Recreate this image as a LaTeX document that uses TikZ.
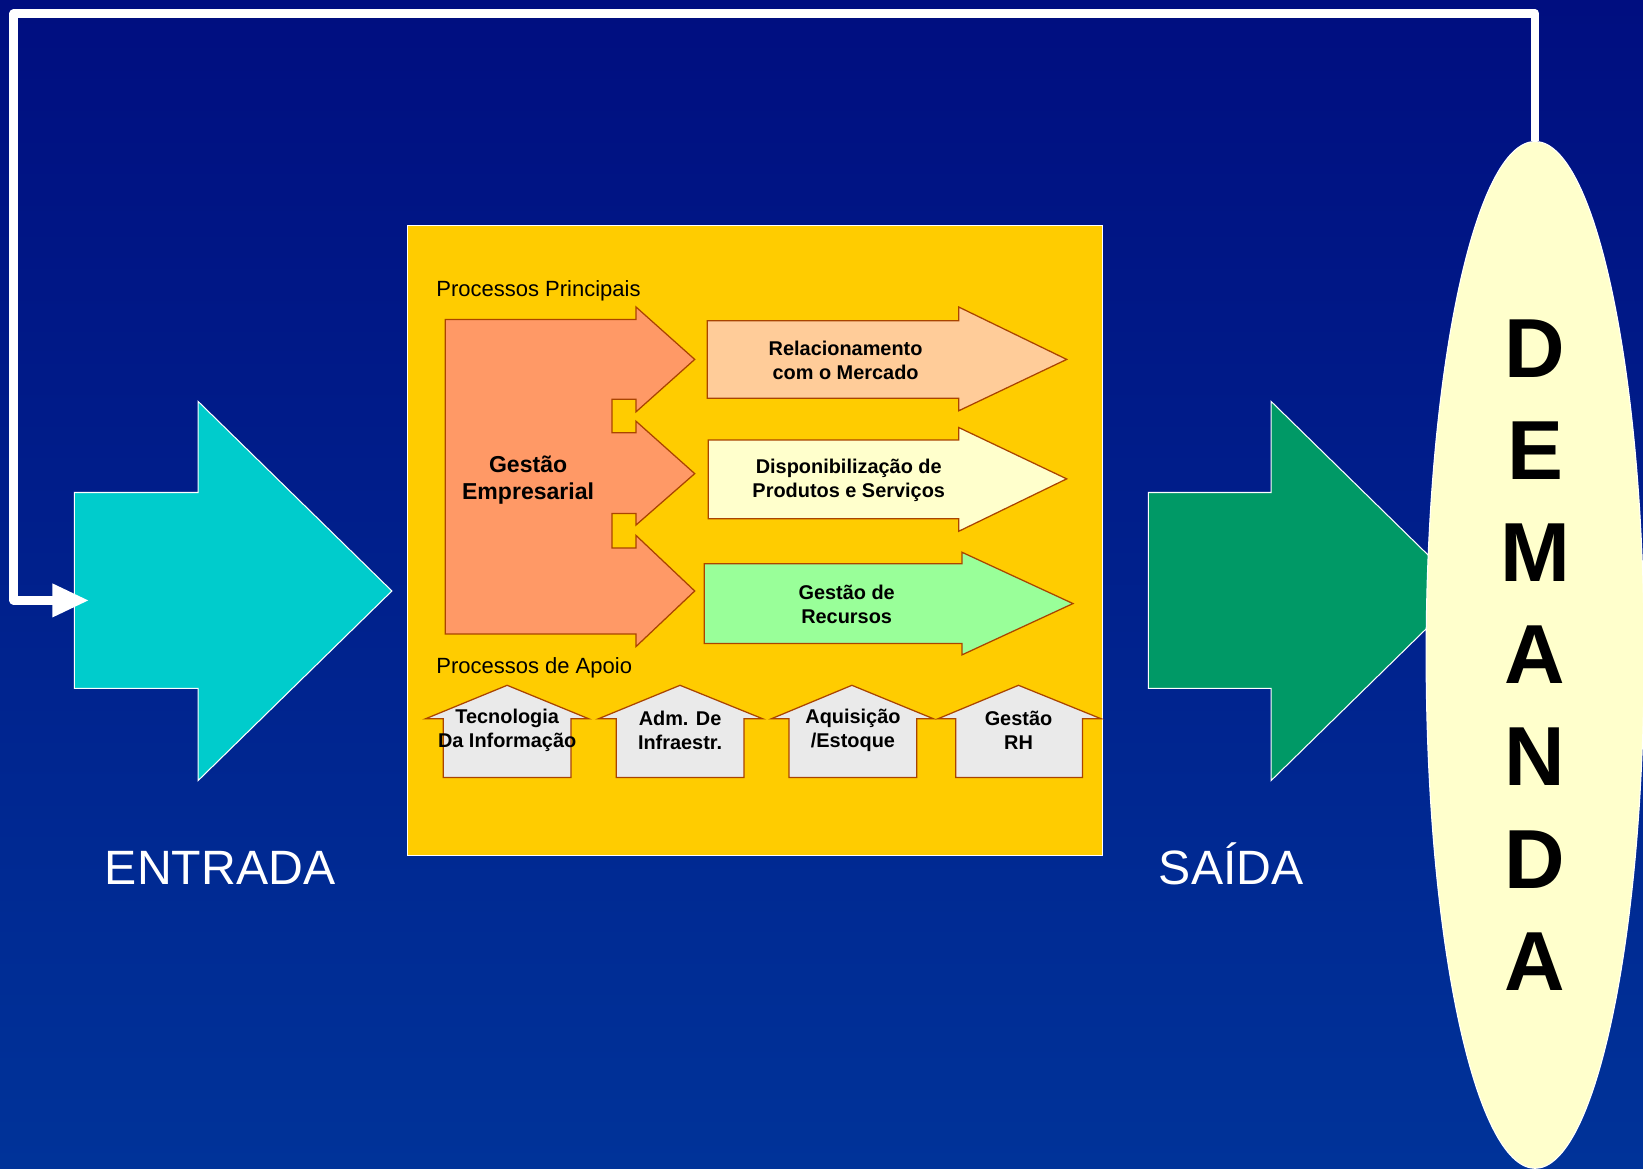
\documentclass[tikz,border=0pt]{standalone}
\usepackage{fontspec}
\setmainfont{Liberation Sans}
\usepackage{tikz}
\usetikzlibrary{shapes.geometric,arrows.meta}
\definecolor{navytop}{RGB}{0,14,128}
\definecolor{navybottom}{RGB}{0,51,153}
\definecolor{entradacyan}{RGB}{0,204,204}
\definecolor{saidagreen}{RGB}{0,153,102}
\definecolor{boxyellow}{RGB}{255,204,0}
\definecolor{salmon}{RGB}{255,153,102}
\definecolor{peach}{RGB}{255,204,153}
\definecolor{cream}{RGB}{255,255,204}
\definecolor{mint}{RGB}{153,255,153}
\definecolor{lightgrey}{RGB}{234,234,234}
\definecolor{rust}{RGB}{170,68,0}

\begin{document}
\begin{tikzpicture}[x=0.5pt,y=-0.5pt,
    bigarrow/.style={draw=white,line width=0.5pt},
    procarrow/.style={draw=rust,line width=0.6pt},
    proctext/.style={align=center,font=\bfseries\fontsize{9.5}{11.5}\selectfont},
    headtext/.style={anchor=west,inner sep=0pt,font=\fontsize{10.5}{13}\selectfont},
    bigtext/.style={text=white,font=\fontsize{23}{27}\selectfont}]

        % background
        \shade[top color=navytop,bottom color=navybottom] (0,0) rectangle (1568,1115);
        \useasboundingbox (0,0) rectangle (1568,1115);

        \coordinate (fbcorner) at (13,13);
        \coordinate (feedin) at (85,573);

        % entrada / saida
        \draw[bigarrow,fill=entradacyan] (71,470) -- (189,470) -- (189,383) -- (374,564)
            -- (189,745) -- (189,657) -- (71,657) -- cycle;
        \draw[bigarrow,fill=saidagreen] (1096,470) -- (1213,470) -- (1213,383) -- (1398,564)
            -- (1213,745) -- (1213,657) -- (1096,657) -- cycle;
        \node[bigtext] (entrada) at (210,828) {ENTRADA};
        \node[bigtext] (saida) at (1175,824) {SAÍDA};

        % processos
        \draw[draw=white,line width=0.5pt,fill=boxyellow] (389,215) rectangle (1052,816);
        \node[headtext] (principais) at (416,278) {Processos Principais};
        \node[headtext] (apoio) at (416,637) {Processos de Apoio};

        \draw[procarrow,fill=salmon] (425,305) -- (607,305) -- (607,293) -- (663,343) -- (607,393)
            -- (607,381) -- (584,381) -- (584,413) -- (607,413) -- (607,402) -- (663,452)
            -- (607,501) -- (607,490) -- (584,490) -- (584,523) -- (607,523) -- (607,511)
            -- (663,564) -- (607,617) -- (607,605) -- (425,605) -- cycle;
        \node[align=center,font=\bfseries\fontsize{11}{13}\selectfont] (gestao) at (504,458) {Gestão\\Empresarial};

        \draw[procarrow,fill=peach] (675,306) -- (915,306) -- (915,293) -- (1018,343)
            -- (915,392) -- (915,380) -- (675,380) -- cycle;
        \draw[procarrow,fill=cream] (676,420) -- (915,420) -- (915,408) -- (1018,457)
            -- (915,507) -- (915,495) -- (676,495) -- cycle;
        \draw[procarrow,fill=mint] (672,538) -- (918,538) -- (918,527) -- (1024,576)
            -- (918,625) -- (918,614) -- (672,614) -- cycle;
        \node[proctext] (mercado) at (807,344) {Relacionamento\\com o Mercado};
        \node[proctext] (produtos) at (810,458) {Disponibilização de\\Produtos e Serviços};
        \node[proctext] (recursos) at (808,577) {Gestão de\\Recursos};

        % apoio
        \draw[procarrow,fill=lightgrey] (423,742) -- (423,686) -- (406,686) -- (484,654)
            -- (562,686) -- (545,686) -- (545,742) -- cycle;
        \draw[procarrow,fill=lightgrey] (588,742) -- (588,686) -- (571,686) -- (649,654)
            -- (728,686) -- (710,686) -- (710,742) -- cycle;
        \draw[procarrow,fill=lightgrey] (753,742) -- (753,686) -- (736,686) -- (813,654)
            -- (891,686) -- (875,686) -- (875,742) -- cycle;
        \draw[procarrow,fill=lightgrey] (912,742) -- (912,686) -- (895,686) -- (972,654)
            -- (1051,686) -- (1033,686) -- (1033,742) -- cycle;
        \node[proctext] (ti) at (484,697) {Tecnologia\\Da Informação};
        \node[proctext] (infra) at (649,697) {Adm. De\\Infraestr.};
        \node[proctext] (estoque) at (814,697) {Aquisição\\/Estoque};
        \node[proctext] (rh) at (972,697) {Gestão\\RH};

        % demanda
        \node[ellipse,draw=white,line width=0.5pt,fill=cream,inner sep=0pt,
            minimum width=104pt,minimum height=490pt,align=center,
            font=\bfseries\fontsize{40}{48.75}\selectfont] (demanda) at (1465,625)
            {D\\E\\M\\A\\N\\D\\A};

        \draw[white,line width=4pt,line join=round,-{Triangle[length=17.5pt,width=15pt]}]
            (demanda.north) |- (fbcorner) |- (feedin);
\end{tikzpicture}
\end{document}
